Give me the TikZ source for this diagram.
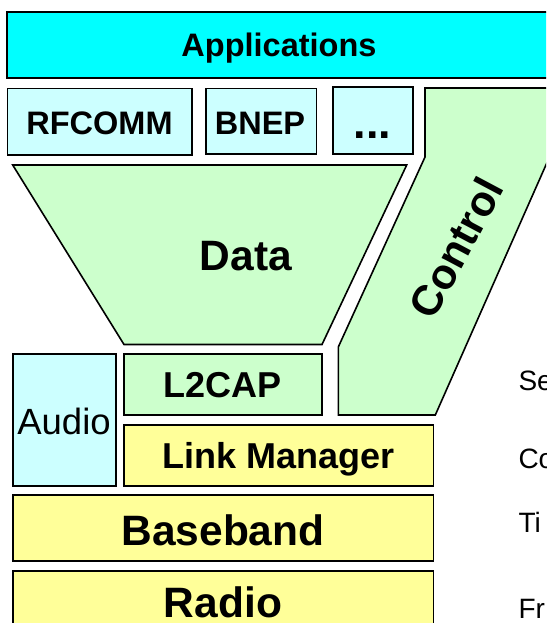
\documentclass[tikz,border=0pt]{standalone}
\usepackage{fontspec}
\setmainfont{Liberation Sans}

\definecolor{appcyan}{HTML}{00FFFF}
\definecolor{protocyan}{HTML}{CCFFFF}
\definecolor{pathgreen}{HTML}{CCFFCC}
\definecolor{coreyellow}{HTML}{FFFF99}

\newcommand\fsz[1]{\fontsize{#1}{#1}\selectfont}

\tikzset{
  layer/.style={draw=black, line width=1.6pt, line join=miter},
  app/.style={layer, fill=appcyan},
  proto/.style={layer, fill=protocyan},
  chan/.style={layer, fill=pathgreen},
  core/.style={layer, fill=coreyellow},
  lbl/.style={inner sep=0pt, anchor=base},
  small/.style={lbl, font=\bfseries\fsz{32.5}},
  mid/.style={lbl, font=\bfseries\fsz{36}},
  big/.style={lbl, font=\bfseries\fsz{42.5}},
  side/.style={inner sep=0pt, anchor=base west, font=\fsz{28}}
}

\begin{document}
\begin{tikzpicture}[x=1pt,y=-1pt]
  \useasboundingbox (0,0) rectangle (546,623);
  \clip (0,0) rectangle (546,623);
  \fill[white] (0,0) rectangle (546,623);

  % top application layer
  \draw[app] (7,12) rectangle (551,78);
  \node[small] (apps) at (279,56.7) {Applications};

  % protocols on top of L2CAP
  \draw[proto] (7.5,88.5) rectangle (192,155);
  \node[small] (rfcomm) at (99.5,135) {RFCOMM};
  \draw[proto] (205.7,88.5) rectangle (316.5,154);
  \node[small] (bnep) at (260,135) {BNEP};
  \draw[proto] (332.7,87) rectangle (412.7,154);
  \node[lbl, font=\bfseries\fsz{45}] (more) at (372.7,139) {...};

  % data funnel
  \draw[chan] (12.7,165) -- (406.7,165) -- (322,344.5) -- (124,344.5) -- cycle;
  \node[big] (data) at (246,270) {Data};

  % control channel
  \draw[chan] (425,88) -- (580,88) -- (435.3,415) -- (338.3,415)
              -- (338.3,347) -- (425,157) -- cycle;
  \node[inner sep=0pt, font=\bfseries\fsz{42.5}, rotate=62] (control) at (456,248) {Control};

  % lower stack
  \draw[proto] (12.7,354) rectangle (115.7,486);
  \node[lbl, font=\fsz{36.5}] (audio) at (64,434) {Audio};
  \draw[chan] (124,354) rectangle (321.7,415);
  \node[mid] (l2cap) at (222.9,397.3) {L2CAP};
  \draw[core] (124,425) rectangle (433.3,486);
  \node[mid] (lm) at (278.7,468.3) {Link Manager};
  \draw[core] (12.7,495) rectangle (433.3,561);
  \node[big] (baseband) at (223,545) {Baseband};
  \draw[core] (12.7,571) rectangle (433.3,640);
  \node[big] (radio) at (223,617) {Radio};

  % side captions
  \node[side] (capse) at (518.3,390) {Se};
  \node[side] (capco) at (518.3,468) {Co};
  \node[side] (capti) at (518.3,532) {Ti};
  \node[side] (capfr) at (518.3,618) {Fr};
\end{tikzpicture}
\end{document}
